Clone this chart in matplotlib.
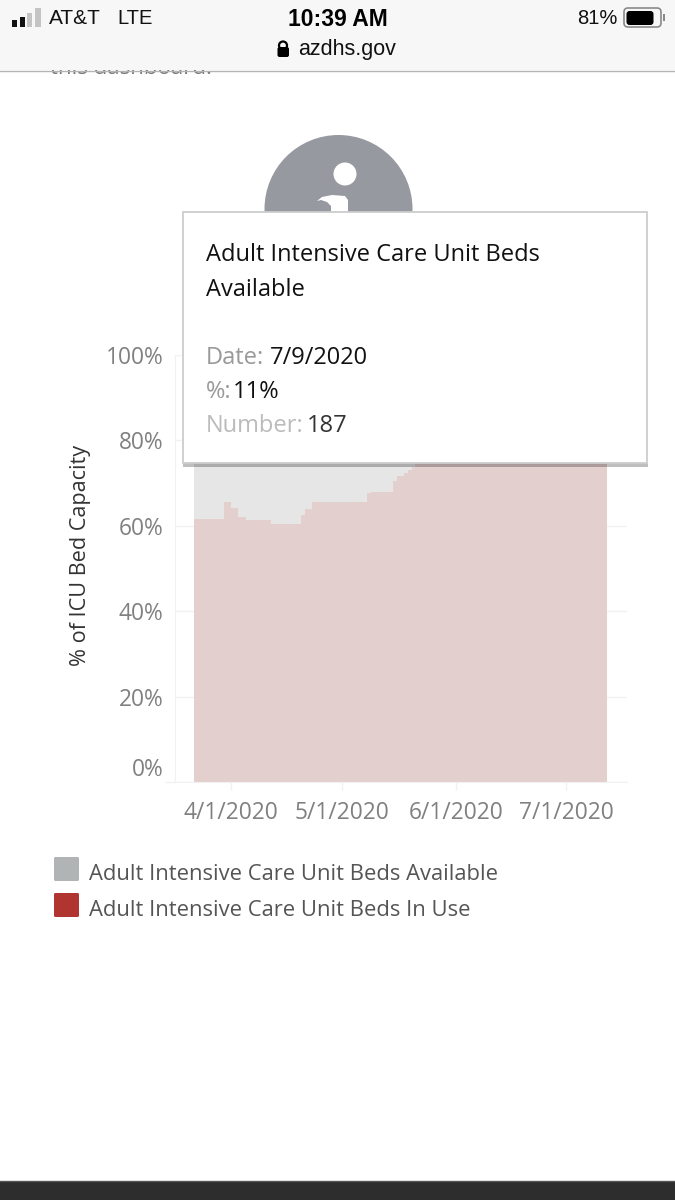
import matplotlib
matplotlib.use('Agg')
import matplotlib.pyplot as plt
from matplotlib.patches import Rectangle, Circle, Polygon, FancyBboxPatch
import pandas as pd

# Dates where the in-use share changes (step chart)
change_dates = ['2020-03-22', '2020-03-30', '2020-04-01', '2020-04-03', '2020-04-05',
                '2020-04-12', '2020-04-20', '2020-04-21', '2020-04-23', '2020-05-08',
                '2020-05-09', '2020-05-15', '2020-05-16', '2020-05-18', '2020-05-19',
                '2020-05-20', '2020-05-21', '2020-06-01', '2020-06-15', '2020-07-01',
                '2020-07-09', '2020-07-12']
# % of ICU beds in use, the values after 5/21 sit behind the tooltip
beds_in_use = [61.7, 65.5, 64.2, 62.0, 61.3,
               60.5, 62.5, 63.9, 65.5, 67.6,
               67.9, 70.6, 71.6, 72.3, 73.0,
               73.8, 75.0, 77.0, 81.0, 87.0,
               89.0, 89.0]
y_ticks = [0, 20, 40, 60, 80, 100]
y_labels = ['0%', '20%', '40%', '60%', '80%', '100%']
x_ticks = ['2020-04-01', '2020-05-01', '2020-06-01', '2020-07-01']
x_labels = ['4/1/2020', '5/1/2020', '6/1/2020', '7/1/2020']
legend_names = ['Adult Intensive Care Unit Beds Available', 'Adult Intensive Care Unit Beds In Use']

W, H = 675, 1200
FONT = 'Open Sans'
UI_FONT = 'Liberation Sans'
GRID = '#F1F1F1'

fig = plt.figure(figsize=(W / 100, H / 100), dpi=100, facecolor='white')

# Chart axes, placed by pixel box
left, right, top, bottom = 175, 627, 355, 782
ax = fig.add_axes([left / W, 1 - bottom / H, (right - left) / W, (bottom - top) / H])
dates = pd.to_datetime(change_dates)
ax.fill_between(dates, beds_in_use, 100, step='post', color='#E6E6E6', lw=0)
ax.fill_between(dates, 0, beds_in_use, step='post', color='#E3CFCE', lw=0)
ax.set_xlim(pd.Timestamp('2020-03-16 20:00'), pd.Timestamp('2020-07-17 10:00'))
ax.set_ylim(0, 100)
ax.set_axisbelow(True)
ax.grid(axis='y', color=GRID, lw=1)
for side in ['top', 'right']:
    ax.spines[side].set_visible(False)
for side in ['left', 'bottom']:
    ax.spines[side].set_color(GRID)

ax.set_yticks(y_ticks)
ax.set_yticklabels(y_labels, fontsize=16.4, color='#808080', family=FONT)
ax.tick_params(axis='y', length=0, pad=8.5)
ax.get_yticklabels()[0].set_va('bottom')
ax.set_xticks(pd.to_datetime(x_ticks))
ax.set_xticklabels(x_labels, fontsize=16.4, color='#808080', family=FONT)
ax.tick_params(axis='x', length=6, width=1, color=GRID, pad=8)
ax.set_ylabel('% of ICU Bed Capacity', fontsize=15.6, color='#333333', family=FONT)
ax.yaxis.set_label_coords((91 - left) / (right - left), (bottom - 555) / (bottom - top))

# Overlay in pixel coordinates for the phone chrome, tooltip and legend
ov = fig.add_axes([0, 0, 1, 1], facecolor='none')
ov.set_xlim(0, W)
ov.set_ylim(H, 0)
ov.axis('off')

# Zero line runs a bit past the axis
ov.plot([166, 175], [782, 782], color=GRID, lw=1, zorder=1)

# Page text cut off by the browser bar
ov.text(50, 69, 'this dashboard.', fontsize=16, color='#777777', family=FONT, va='center', zorder=1)
ov.add_patch(Rectangle((0, 0), W, 70, fc='#F7F7F7', ec='none', zorder=2))
ov.plot([0, W], [70.5, 70.5], color='#B5B5B5', lw=1, zorder=3)

# Signal bars
for x0, x1, y0, c in [(12, 17, 20, '#111111'), (20, 25, 17, '#111111'),
                      (27, 32, 13, '#C4C4C4'), (34.5, 41, 8, '#C4C4C4')]:
    ov.add_patch(Rectangle((x0, y0), x1 - x0, 27 - y0, fc=c, ec='none', zorder=3))
ov.text(49, 19, 'AT&T', fontsize=15, color='#111111', family=UI_FONT, va='center', zorder=3)
ov.text(117, 19, 'LTE', fontsize=14.5, color='#111111', family=UI_FONT, va='center', zorder=3)
ov.text(338, 19, '10:39 AM', fontsize=16.5, color='black', family=UI_FONT, weight='bold',
        ha='center', va='center', zorder=3)
ov.text(347, 49, 'azdhs.gov', fontsize=15.5, color='#111111', family=UI_FONT, ha='center', va='center', zorder=3)
ov.text(618, 19, '81%', fontsize=14.5, color='#111111', family=UI_FONT, ha='right', va='center', zorder=3)

# Lock
ov.add_patch(FancyBboxPatch((277.5, 47), 11.5, 10, boxstyle='round,pad=0,rounding_size=2', fc='black', ec='none', zorder=3))
ov.add_patch(Circle((283, 45.5), 4, fc='none', ec='black', lw=1.6, zorder=3))

# Battery
ov.add_patch(FancyBboxPatch((624, 8), 37, 19, boxstyle='round,pad=0,rounding_size=4', fc='none', ec='#8A8A8A', lw=1.2, zorder=3))
ov.add_patch(FancyBboxPatch((626.5, 11), 27, 14, boxstyle='round,pad=0,rounding_size=3', fc='black', ec='none', zorder=3))
ov.add_patch(Rectangle((663, 14), 1.5, 7, fc='#8A8A8A', ec='none', zorder=3))

# Info icon behind the tooltip
ov.add_patch(Circle((338.5, 209), 74, fc='#96999F', ec='none', zorder=4))
ov.add_patch(Circle((345, 174), 11.5, fc='white', ec='none', zorder=5))
ov.add_patch(Polygon([(317, 201), (322, 197), (332, 195), (345, 196), (348, 200), (348, 213),
                      (331, 213), (331, 206), (327, 202), (321, 200)],
                     fc='white', ec='none', zorder=5))

# Tooltip
ov.add_patch(Rectangle((183, 463), 465, 3.5, fc='black', ec='none', alpha=0.25, zorder=6))
ov.add_patch(Rectangle((183, 212), 464, 251, fc='white', ec='#CDCDCD', lw=1.3, zorder=7))
ov.text(206, 255, 'Adult Intensive Care Unit Beds', fontsize=17, color='#111111', family=FONT, va='center', zorder=8)
ov.text(206, 290, 'Available', fontsize=17, color='#111111', family=FONT, va='center', zorder=8)
ov.text(206, 358, 'Date:', fontsize=17, color='#999999', family=FONT, va='center', zorder=8)
ov.text(270, 358, '7/9/2020', fontsize=17, color='#111111', family=FONT, va='center', zorder=8)
ov.text(206, 392, '%:', fontsize=17, color='#999999', family=FONT, va='center', zorder=8)
ov.text(233, 392, '11%', fontsize=17, color='#111111', family=FONT, va='center', zorder=8)
ov.text(206, 426, 'Number:', fontsize=17, color='#BBBBBB', family=FONT, va='center', zorder=8)
ov.text(307, 426, '187', fontsize=17, color='#333333', family=FONT, va='center', zorder=8)

# Legend
for y0, c, name in zip([857, 893], ['#B0B4B4', '#B03530'], legend_names):
    ov.add_patch(FancyBboxPatch((54, y0), 25, 24, boxstyle='round,pad=0,rounding_size=1.5', fc=c, ec='none', zorder=3))
    ov.text(89, y0 + 18, name, fontsize=15.8, color='#555555', family=FONT, va='center', zorder=3)

# Dark footer
ov.add_patch(Rectangle((0, 1181), W, 19, fc='#2D2D2D', ec='none', zorder=3))
ov.plot([0, W], [1181, 1181], color='#555555', lw=1, zorder=4)

fig.savefig('out.png', dpi=100)
